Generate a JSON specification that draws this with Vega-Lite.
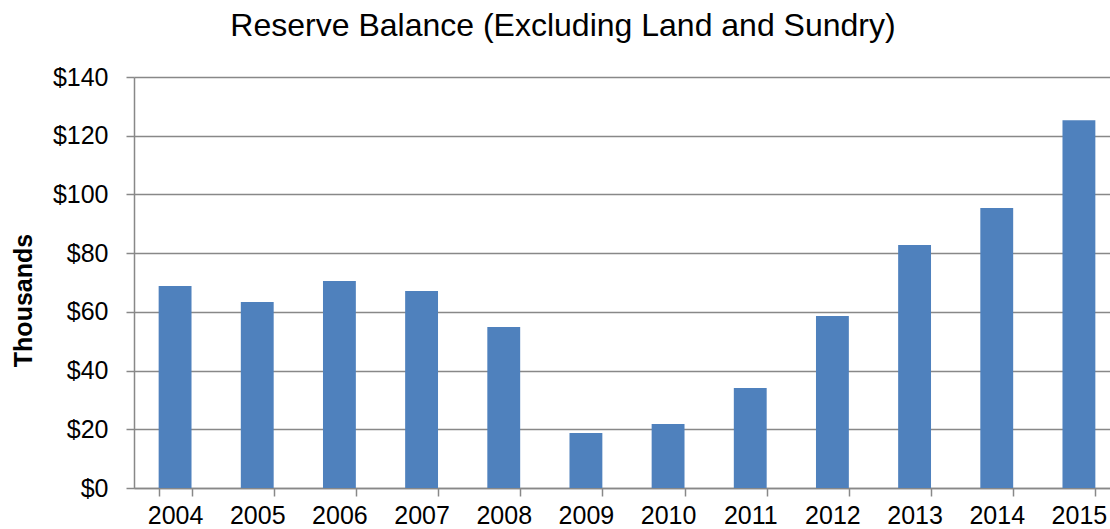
{
  "$schema": "https://vega.github.io/schema/vega-lite/v6.json",
  "autosize": "none",
  "width": 986,
  "height": 411,
  "padding": {"left": 134, "top": 77, "right": 0, "bottom": 41},
  "background": "white",
  "config": {
    "view": {"stroke": null},
    "font": "Liberation Sans"
  },
  "title": {
    "text": "Reserve Balance (Excluding Land and Sundry)",
    "fontSize": 32,
    "fontWeight": "normal",
    "font": "Liberation Sans",
    "color": "black",
    "anchor": "middle",
    "dx": -64,
    "dy": 6,
    "offset": 3,
    "baseline": "alphabetic"
  },
  "data": {
    "values": [
      {"year": "2004", "value": 68.8},
      {"year": "2005", "value": 63.4},
      {"year": "2006", "value": 70.5},
      {"year": "2007", "value": 67.1},
      {"year": "2008", "value": 54.8},
      {"year": "2009", "value": 18.7},
      {"year": "2010", "value": 21.8},
      {"year": "2011", "value": 34.1},
      {"year": "2012", "value": 58.6},
      {"year": "2013", "value": 82.8},
      {"year": "2014", "value": 95.4},
      {"year": "2015", "value": 125.3}
    ]
  },
  "mark": {"type": "bar", "color": "#4F81BD"},
  "encoding": {
    "x": {
      "field": "year",
      "type": "ordinal",
      "scale": {"paddingInner": 0.6, "paddingOuter": 0.3},
      "axis": {
        "title": null,
        "labelAngle": 0,
        "labelFontSize": 25,
        "labelColor": "black",
        "labelPadding": 7,
        "domainColor": "#888888",
        "domainWidth": 1.5,
        "tickColor": "#888888",
        "tickWidth": 1.5,
        "tickSize": 8,
        "tickBand": "extent",
        "grid": false
      }
    },
    "y": {
      "field": "value",
      "type": "quantitative",
      "scale": {"domain": [0, 140]},
      "axis": {
        "title": "Thousands",
        "titleFontSize": 25,
        "titleFontWeight": "bold",
        "titleColor": "black",
        "titleAngle": 270,
        "titleAlign": "center",
        "titleBaseline": "middle",
        "titleX": -111,
        "titleY": 223,
        "values": [0, 20, 40, 60, 80, 100, 120, 140],
        "labelExpr": "'$' + datum.value",
        "labelFontSize": 25,
        "labelColor": "black",
        "labelPadding": 18,
        "domainColor": "#888888",
        "domainWidth": 1.5,
        "tickColor": "#888888",
        "tickWidth": 1.5,
        "tickSize": 8,
        "grid": true,
        "gridColor": "#888888",
        "gridWidth": 1.5
      }
    }
  }
}
